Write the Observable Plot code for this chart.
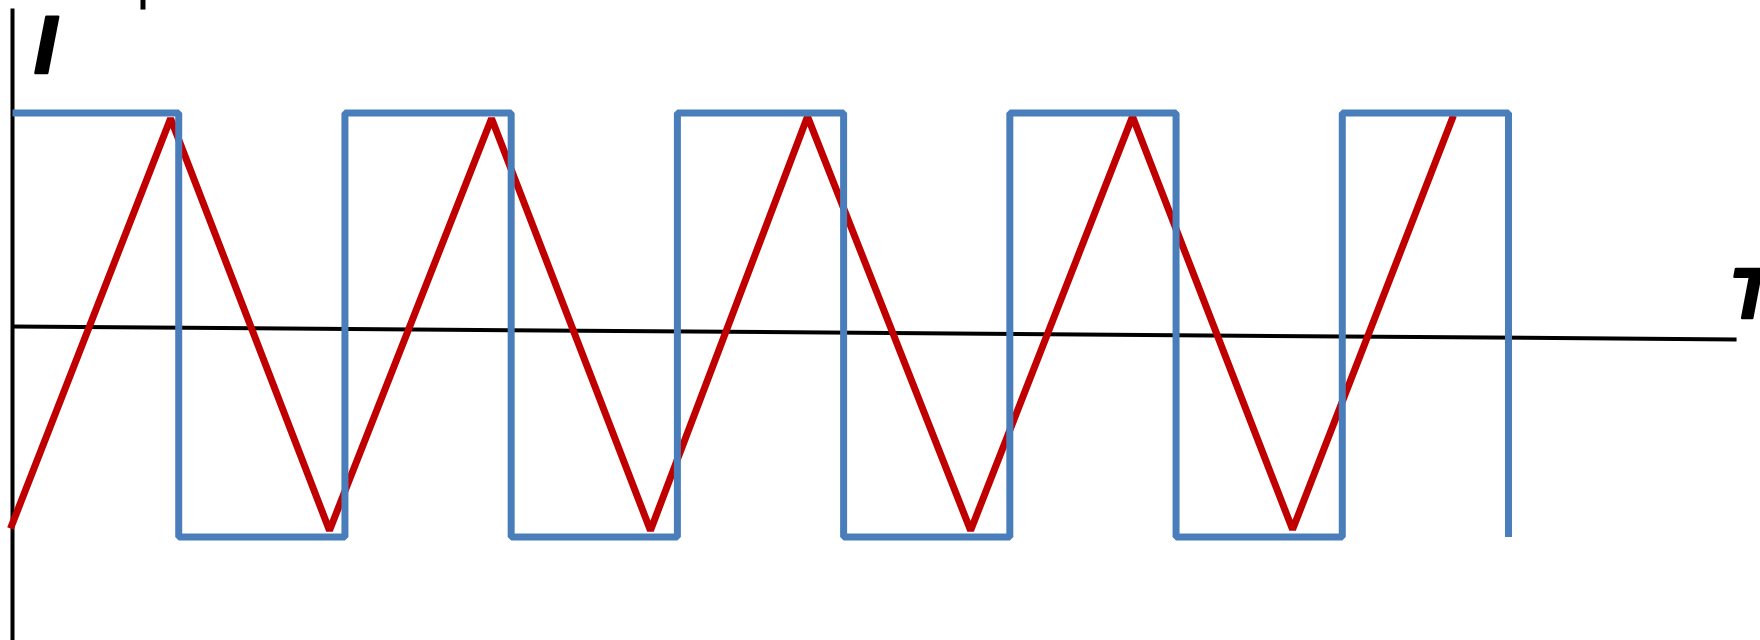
<!DOCTYPE html>
<html>
<head>
<meta charset="utf-8">
<script src="https://cdn.jsdelivr.net/npm/d3@7"></script>
<script src="https://cdn.jsdelivr.net/npm/@observablehq/plot@0.6"></script>
<style>
  html, body { margin: 0; padding: 0; background: #fff; overflow: hidden; }
  #chart svg { display: block; }
</style>
</head>
<body>
<div id="chart"></div>
<script>
// Square wave (blue): time in half-periods, current amplitude
const squareT = [0, 1, 1, 2, 2, 3, 3, 4, 4, 5, 5, 6, 6, 7, 7, 8, 8, 9, 9];
const squareI = [1, 1, -1, -1, 1, 1, -1, -1, 1, 1, -1, -1, 1, 1, -1, -1, 1, 1, -1];

// Triangle wave (red): vertices
const triT = [-0.012, 0.951, 1.907, 2.882, 3.838, 4.783, 5.764, 6.738, 7.701, 8.669];
const triI = [-0.96, 0.974, -0.969, 0.974, -0.969, 0.983, -0.969, 0.983, -0.965, 0.988];

// Axes (the T axis is drawn slightly tilted in the original)
const tAxisT = [0, 10.372];
const tAxisI = [-0.007, -0.068];
const iAxisT = [0, 0];
const iAxisI = [-1.6, 1.493];
const topTickT = [0.785, 0.785];
const topTickI = [1.488, 1.54];

// Axis labels
const yLabel = "I";
const yLabelT = 0.13;
const yLabelI = 1.314;
const xLabel = "T";
const xLabelT = 10.33;
const xLabelI = 0.139;

const square = squareT.map((t, i) => ({t, I: squareI[i]}));
const tri = triT.map((t, i) => ({t, I: triI[i]}));
const tAxis = tAxisT.map((t, i) => ({t, I: tAxisI[i]}));
const iAxis = iAxisT.map((t, i) => ({t, I: iAxisI[i]}));
const topTick = topTickT.map((t, i) => ({t, I: topTickI[i]}));

const labelStyle = {
  fontWeight: "bold", fontStyle: "italic",
  fontFamily: "Liberation Sans, Arial, sans-serif",
  textAnchor: "start", lineAnchor: "middle",
  fill: "#000", stroke: "#000", strokeWidth: 2.5, strokeLinejoin: "round"
};

const chart = Plot.plot({
  width: 1760,
  height: 640,
  margin: 0,
  x: {domain: [0, 9], range: [12, 1508], axis: null},
  y: {domain: [-1, 1], range: [536.5, 112.5], axis: null},
  style: {background: "#fff", overflow: "visible"},
  marks: [
    Plot.line(iAxis, {x: "t", y: "I", stroke: "#000", strokeWidth: 4, strokeLinecap: "butt"}),
    Plot.line(tAxis, {x: "t", y: "I", stroke: "#000", strokeWidth: 4, strokeLinecap: "butt"}),
    Plot.line(topTick, {x: "t", y: "I", stroke: "#000", strokeWidth: 5, strokeLinecap: "butt"}),
    Plot.line(tri, {x: "t", y: "I", stroke: "#c00000", strokeWidth: 7, strokeLinejoin: "miter", strokeMiterlimit: 1.5, strokeLinecap: "butt"}),
    Plot.line(square, {x: "t", y: "I", stroke: "#4a7ebb", strokeWidth: 7, strokeLinejoin: "miter", strokeLinecap: "butt"}),
    Plot.text([yLabel], {x: () => yLabelT, y: () => yLabelI, text: d => d, fontSize: 82, ...labelStyle}),
    Plot.text([xLabel], {x: () => xLabelT, y: () => xLabelI, text: d => d, fontSize: 70, ...labelStyle})
  ]
});
document.getElementById("chart").appendChild(chart);
</script>
</body>
</html>
